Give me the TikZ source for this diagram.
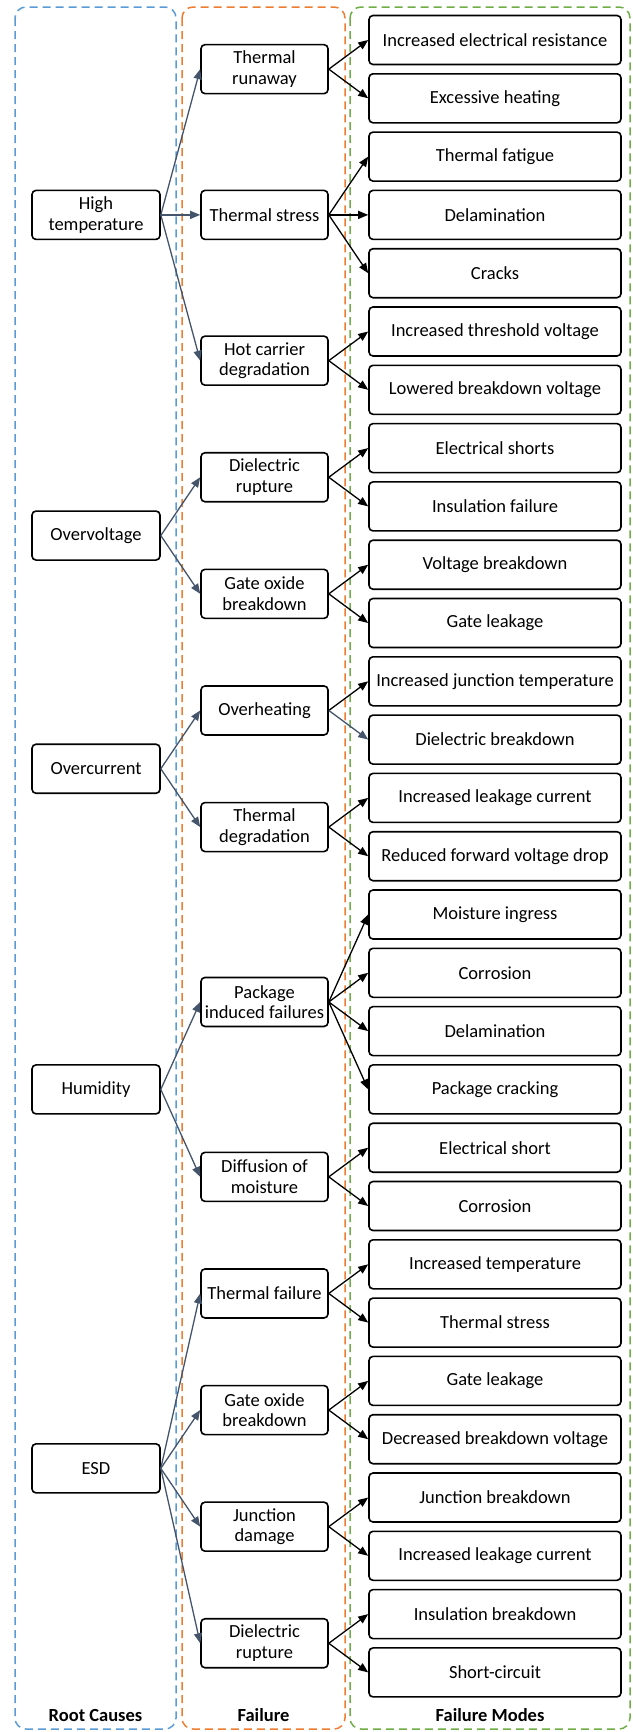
\documentclass[tikz,border=0pt]{standalone}
\usepackage{fontspec}
\setmainfont{Carlito}
\usetikzlibrary{arrows.meta}
\definecolor{cblue}{HTML}{5B9BD5}
\definecolor{corange}{HTML}{ED7D31}
\definecolor{cgreen}{HTML}{70AD47}
\definecolor{cslate}{HTML}{44546A}
\begin{document}
\begin{tikzpicture}[x=1pt,y=-1pt,
  box/.style={draw=black, line width=1.6pt, rounded corners=4pt, align=center, inner sep=1pt,
    font=\fontsize{18.5}{20.5}\selectfont},
  rootbox/.style={box, minimum width=128pt, minimum height=49pt},
  failbox/.style={box, minimum width=127pt, minimum height=49pt},
  modebox/.style={box, minimum width=252pt, minimum height=49pt},
  groupbox/.style={dashed, dash pattern=on 8pt off 5pt, line width=1.5pt, rounded corners=11pt},
  grouplabel/.style={font=\fontsize{18.5}{20.5}\selectfont\bfseries},
  rarrow/.style={draw=cslate, line width=1.3pt, -{Triangle[length=10pt,width=8pt]}},
  marrow/.style={draw=black, line width=1.3pt, -{Triangle[length=10pt,width=8pt]}},
]
\useasboundingbox (0,0) rectangle (632,1732);

% group frames
\draw[groupbox, cblue] (15,7) rectangle (176,1729);
\draw[groupbox, corange] (182,7) rectangle (345,1729);
\draw[groupbox, cgreen] (350,7) rectangle (630,1729);
\node[grouplabel] (lroot) at (95.5,1715) {Root Causes};
\node[grouplabel] (lfail) at (263.5,1715) {Failure};
\node[grouplabel] (lmode) at (490,1715) {Failure Modes};

% root causes
\node[rootbox] (r1) at (96,214.9) {High\\temperature};
\node[rootbox] (r2) at (96,535.55) {Overvoltage};
\node[rootbox] (r3) at (96,768.75) {Overcurrent};
\node[rootbox] (r4) at (96,1089.4) {Humidity};
\node[rootbox] (r5) at (96,1468.35) {ESD};

% failures
\node[failbox] (f1) at (264.5,69.15) {Thermal\\runaway};
\node[failbox] (f2) at (264.5,214.9) {Thermal stress};
\node[failbox] (f3) at (264.5,360.65) {Hot carrier\\degradation};
\node[failbox] (f4) at (264.5,477.25) {Dielectric\\rupture};
\node[failbox] (f5) at (264.5,593.85) {Gate oxide\\breakdown};
\node[failbox] (f6) at (264.5,710.45) {Overheating};
\node[failbox] (f7) at (264.5,827.05) {Thermal\\degradation};
\node[failbox] (f8) at (264.5,1001.95) {Package\\induced failures};
\node[failbox] (f9) at (264.5,1176.85) {Diffusion of\\moisture};
\node[failbox] (f10) at (264.5,1293.45) {Thermal failure};
\node[failbox] (f11) at (264.5,1410.05) {Gate oxide\\breakdown};
\node[failbox] (f12) at (264.5,1526.65) {Junction\\damage};
\node[failbox] (f13) at (264.5,1643.25) {Dielectric\\rupture};

% failure modes
\node[modebox] (m1) at (495,40) {Increased electrical resistance};
\node[modebox] (m2) at (495,98.3) {Excessive heating};
\node[modebox] (m3) at (495,156.6) {Thermal fatigue};
\node[modebox] (m4) at (495,214.9) {Delamination};
\node[modebox] (m5) at (495,273.2) {Cracks};
\node[modebox] (m6) at (495,331.5) {Increased threshold voltage};
\node[modebox] (m7) at (495,389.8) {Lowered breakdown voltage};
\node[modebox] (m8) at (495,448.1) {Electrical shorts};
\node[modebox] (m9) at (495,506.4) {Insulation failure};
\node[modebox] (m10) at (495,564.7) {Voltage breakdown};
\node[modebox] (m11) at (495,623) {Gate leakage};
\node[modebox] (m12) at (495,681.3) {Increased junction temperature};
\node[modebox] (m13) at (495,739.6) {Dielectric breakdown};
\node[modebox] (m14) at (495,797.9) {Increased leakage current};
\node[modebox] (m15) at (495,856.2) {Reduced forward voltage drop};
\node[modebox] (m16) at (495,914.5) {Moisture ingress};
\node[modebox] (m17) at (495,972.8) {Corrosion};
\node[modebox] (m18) at (495,1031.1) {Delamination};
\node[modebox] (m19) at (495,1089.4) {Package cracking};
\node[modebox] (m20) at (495,1147.7) {Electrical short};
\node[modebox] (m21) at (495,1206) {Corrosion};
\node[modebox] (m22) at (495,1264.3) {Increased temperature};
\node[modebox] (m23) at (495,1322.6) {Thermal stress};
\node[modebox] (m24) at (495,1380.9) {Gate leakage};
\node[modebox] (m25) at (495,1439.2) {Decreased breakdown voltage};
\node[modebox] (m26) at (495,1497.5) {Junction breakdown};
\node[modebox] (m27) at (495,1555.8) {Increased leakage current};
\node[modebox] (m28) at (495,1614.1) {Insulation breakdown};
\node[modebox] (m29) at (495,1672.4) {Short-circuit};

% root -> failure
\foreach \a/\b in {r1/f1,r1/f2,r1/f3,r2/f4,r2/f5,r3/f6,r3/f7,r4/f8,r4/f9,r5/f10,r5/f11,r5/f12,r5/f13}
  \draw[rarrow] (\a.east) -- (\b.west);

% failure -> modes
\foreach \a/\b in {f1/m1,f1/m2,f2/m3,f2/m4,f2/m5,f3/m6,f3/m7,f4/m8,f4/m9,f5/m10,f5/m11,f6/m12,
  f7/m14,f7/m15,f8/m16,f8/m17,f8/m18,f8/m19,f9/m20,f9/m21,f10/m22,f10/m23,f11/m24,f11/m25,
  f12/m26,f12/m27,f13/m28,f13/m29}
  \draw[marrow] (\a.east) -- (\b.west);
\draw[rarrow] (f6.east) -- (m13.west);
\end{tikzpicture}
\end{document}
